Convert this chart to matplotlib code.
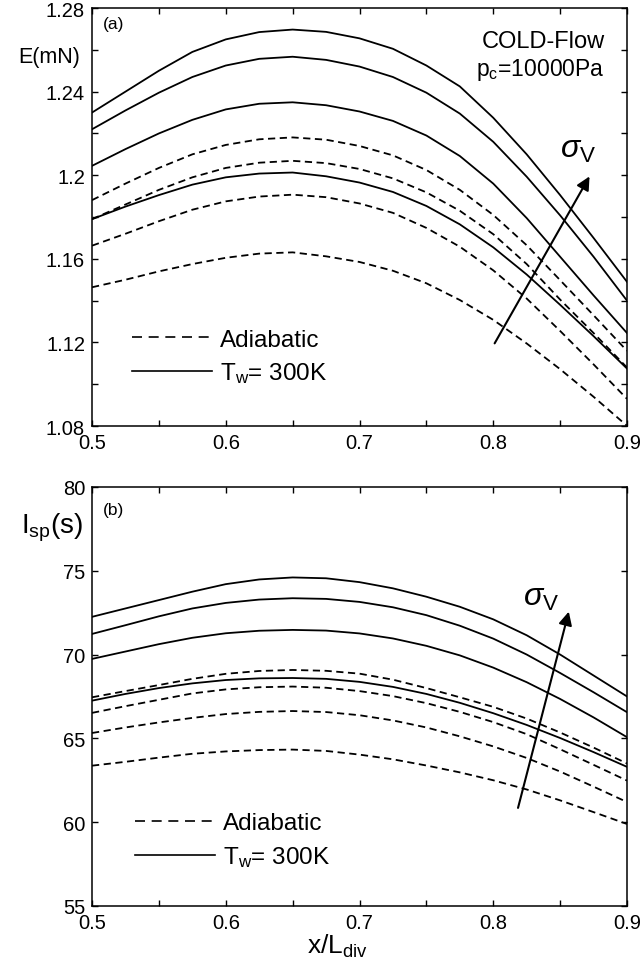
import matplotlib
matplotlib.use('Agg')
import matplotlib.pyplot as plt
from matplotlib.lines import Line2D

plt.rcParams['font.family'] = ['Liberation Sans', 'DejaVu Sans']
plt.rcParams['mathtext.fontset'] = 'custom'
plt.rcParams['mathtext.rm'] = 'Liberation Sans'
plt.rcParams['mathtext.it'] = 'Liberation Sans:italic'
plt.rcParams['mathtext.sf'] = 'Liberation Sans'

x_div = [0.5, 0.525, 0.55, 0.575, 0.6, 0.625, 0.65, 0.675, 0.7,
         0.725, 0.75, 0.775, 0.8, 0.825, 0.85, 0.875, 0.9]

# (a) thrust E (mN), Tw = 300K, top to bottom
thrust_tw300 = [
    [1.230, 1.240, 1.250, 1.259, 1.265, 1.2685, 1.2697, 1.2686, 1.2655,
     1.2605, 1.2525, 1.2425, 1.2275, 1.210, 1.1905, 1.170, 1.149],
    [1.222, 1.231, 1.2395, 1.247, 1.2525, 1.2557, 1.2567, 1.2552, 1.252,
     1.247, 1.2395, 1.2295, 1.216, 1.1993, 1.1808, 1.161, 1.140],
    [1.2045, 1.2125, 1.220, 1.2265, 1.2315, 1.2342, 1.2349, 1.2335, 1.2305,
     1.226, 1.219, 1.2092, 1.196, 1.1795, 1.161, 1.1425, 1.1245],
    [1.179, 1.185, 1.1905, 1.1955, 1.199, 1.2008, 1.2013, 1.1995, 1.1965,
     1.192, 1.1853, 1.1765, 1.1655, 1.1525, 1.138, 1.123, 1.1075],
]
# (a) thrust E (mN), adiabatic wall
thrust_adiabatic = [
    [1.1881, 1.196, 1.2035, 1.210, 1.2145, 1.2172, 1.2181, 1.217, 1.214,
     1.2095, 1.2025, 1.193, 1.181, 1.1665, 1.1498, 1.133, 1.116],
    [1.179, 1.186, 1.193, 1.199, 1.2035, 1.206, 1.2069, 1.2058, 1.203,
     1.1985, 1.1918, 1.183, 1.1718, 1.1575, 1.1405, 1.1245, 1.108],
    [1.1663, 1.172, 1.178, 1.1835, 1.1875, 1.1898, 1.1907, 1.1895, 1.1865,
     1.182, 1.1748, 1.1658, 1.1545, 1.141, 1.1255, 1.1095, 1.093],
    [1.1464, 1.150, 1.154, 1.1575, 1.1605, 1.1625, 1.1631, 1.1612, 1.1585,
     1.1543, 1.1483, 1.1403, 1.1308, 1.1195, 1.1072, 1.094, 1.0801],
]

# (b) specific impulse Isp (s), Tw = 300K
isp_tw300 = [
    [72.25, 72.75, 73.25, 73.75, 74.20, 74.48, 74.60, 74.55, 74.32,
     73.95, 73.45, 72.85, 72.10, 71.15, 70.00, 68.75, 67.50],
    [71.23, 71.75, 72.28, 72.75, 73.08, 73.28, 73.36, 73.32, 73.14,
     72.82, 72.35, 71.72, 70.95, 70.00, 68.90, 67.75, 66.56],
    [69.74, 70.18, 70.62, 71.00, 71.27, 71.42, 71.47, 71.43, 71.26,
     70.96, 70.52, 69.95, 69.22, 68.35, 67.35, 66.25, 65.07],
    [67.25, 67.65, 68.00, 68.28, 68.48, 68.58, 68.60, 68.55, 68.37,
     68.07, 67.65, 67.12, 66.50, 65.80, 65.02, 64.18, 63.30],
]
# (b) specific impulse Isp (s), adiabatic wall
isp_adiabatic = [
    [67.45, 67.82, 68.18, 68.55, 68.85, 69.02, 69.08, 69.03, 68.86,
     68.50, 68.00, 67.45, 66.88, 66.18, 65.35, 64.45, 63.50],
    [66.52, 66.92, 67.30, 67.68, 67.92, 68.05, 68.09, 68.02, 67.82,
     67.52, 67.10, 66.58, 65.97, 65.25, 64.35, 63.42, 62.48],
    [65.32, 65.65, 65.95, 66.22, 66.45, 66.58, 66.63, 66.57, 66.38,
     66.07, 65.65, 65.12, 64.52, 63.83, 63.02, 62.12, 61.20],
    [63.37, 63.60, 63.85, 64.08, 64.22, 64.30, 64.33, 64.25, 64.03,
     63.75, 63.38, 62.97, 62.50, 61.95, 61.30, 60.60, 59.89],
]

x_ticks = [0.5, 0.55, 0.6, 0.65, 0.7, 0.75, 0.8, 0.85, 0.9]
x_ticklabels = ['0.5', '', '0.6', '', '0.7', '', '0.8', '', '0.9']
e_ticks = [1.08, 1.10, 1.12, 1.14, 1.16, 1.18, 1.20, 1.22, 1.24, 1.26, 1.28]
e_ticklabels = ['1.08', '', '1.12', '', '1.16', '', '1.2', '', '1.24', '', '1.28']
isp_ticks = [55, 60, 65, 70, 75, 80]

dash = (0, (4, 2.5))

fig = plt.figure(figsize=(6.44, 9.62), dpi=100)
ax1 = fig.add_axes([0.1429, 0.5561, 0.8307, 0.4345])
ax2 = fig.add_axes([0.1429, 0.0572, 0.8307, 0.4356])


def draw_panel(ax, solid, dashed):
    for ys in solid:
        ax.plot(x_div, ys, color='black', lw=1.3)
    for ys in dashed:
        ax.plot(x_div, ys, color='black', lw=1.3, ls=dash)
    ax.set_xlim(0.5, 0.9)
    ax.set_xticks(x_ticks)
    ax.set_xticklabels(x_ticklabels)
    ax.tick_params(direction='in', top=True, right=True, length=4.5,
                   width=1.0, labelsize=14.5, pad=5)
    for sp in ax.spines.values():
        sp.set_linewidth(1.1)


draw_panel(ax1, thrust_tw300, thrust_adiabatic)
ax1.set_ylim(1.08, 1.28)
ax1.set_yticks(e_ticks)
ax1.set_yticklabels(e_ticklabels)

draw_panel(ax2, isp_tw300, isp_adiabatic)
ax2.set_ylim(55, 80)
ax2.set_yticks(isp_ticks)

# legends
leg_handles = [Line2D([], [], color='black', lw=1.2, ls=(0, (6, 4))),
               Line2D([], [], color='black', lw=1.2)]
leg_labels = ['Adiabatic', r'T$_\mathregular{w}$= 300K']
for ax, (lx, ly) in [(ax1, (0.075, 0.165)), (ax2, (0.08, 0.156))]:
    ax.legend(leg_handles, leg_labels, loc='center left', bbox_to_anchor=(lx, ly),
              frameon=False, fontsize=17.5, handlelength=3.3, handletextpad=0.33,
              labelspacing=0.4, borderpad=0, borderaxespad=0)

# panel tags and annotations
ax1.text(0.02, 0.962, '(a)', transform=ax1.transAxes, fontsize=12.5, va='center')
ax2.text(0.02, 0.947, '(b)', transform=ax2.transAxes, fontsize=12.5, va='center')
ax1.text(0.959, 0.921, 'COLD-Flow', transform=ax1.transAxes, fontsize=17,
         ha='right', va='center')
ax1.text(0.959, 0.854, r'p$_\mathregular{c}$=10000Pa', transform=ax1.transAxes,
         fontsize=16.5, ha='right', va='center')

ax1.annotate('', xy=(0.873, 1.2006), xytext=(0.800, 1.1184),
             arrowprops=dict(arrowstyle='-|>', color='black', lw=1.5, mutation_scale=20))
ax1.text(0.908, 0.663, r'$\sigma_\mathregular{V}$', transform=ax1.transAxes,
         fontsize=23, ha='center', va='center')
ax2.annotate('', xy=(0.857, 72.72), xytext=(0.818, 60.69),
             arrowprops=dict(arrowstyle='-|>', color='black', lw=1.5, mutation_scale=20))
ax2.text(0.839, 0.737, r'$\sigma_\mathregular{V}$', transform=ax2.transAxes,
         fontsize=23, ha='center', va='center')

# axis labels placed like the original (horizontal, top-left)
fig.text(49 / 644, 1 - 57 / 962, 'E(mN)', fontsize=15.5, ha='center', va='center')
fig.text(52 / 644, 1 - 528 / 962, r'I$_\mathregular{sp}$(s)', fontsize=20,
         ha='center', va='center')
fig.text(337 / 644, 1 - 946 / 962, r'x/L$_\mathregular{div}$', fontsize=19,
         ha='center', va='center')

fig.savefig('out.png', dpi=100)
